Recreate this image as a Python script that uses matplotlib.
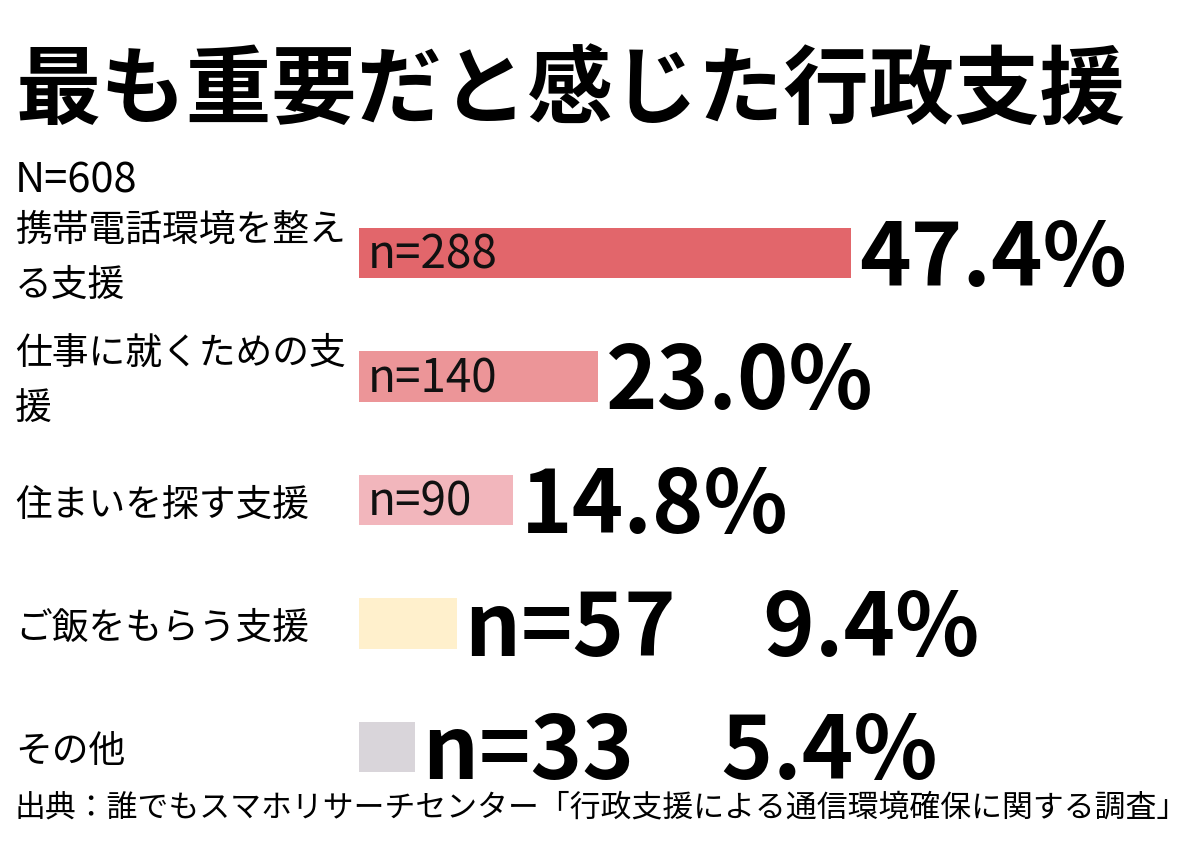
import matplotlib
matplotlib.use("Agg")
import matplotlib.pyplot as plt
from matplotlib.transforms import blended_transform_factory

plt.rcParams['font.family'] = ['Noto Sans CJK JP', 'DejaVu Sans']

# data
labels = ['携帯電話環境を整え\nる支援', '仕事に就くための支\n援', '住まいを探す支援',
          'ご飯をもらう支援', 'その他']
counts = [288, 140, 90, 57, 33]
pcts = [47.4, 23.0, 14.8, 9.4, 5.4]
colors = ['#E2666B', '#EC9598', '#F2B6BC', '#FFF0CC', '#D9D5DA']
title = '最も重要だと感じた行政支援'
total_n = 'N=608'
source = '出典：誰でもスマホリサーチセンター「行政支援による通信環境確保に関する調査」'

W, H = 1200, 848
fig = plt.figure(figsize=(12, 8.48), dpi=100)
fig.patch.set_facecolor('white')

# bar area: left edge at x=359px, 10.38 px per percent
ax = fig.add_axes([359 / W, 1 - 808.5 / H, 830 / W, 617 / H])
ax.set_xlim(0, 830 / 10.38)
ax.set_ylim(len(labels) - 0.5, -0.5)
ax.axis('off')

ypos = list(range(len(labels)))
ax.barh(ypos, pcts, height=0.41, color=colors)

lab_tr = blended_transform_factory(fig.transFigure, ax.transData)
for i, lab in enumerate(labels):
    ax.text(15 / W, i + 0.04, lab, transform=lab_tr, ha='left', va='center',
            fontsize=26.5, linespacing=1.55, color='black')

for i, (c, p) in enumerate(zip(counts, pcts)):
    if p > 12:
        ax.text(0.8, i + 0.02, f'n={c}', ha='left', va='center', fontsize=33, color='#111111')
        ax.text(p + 0.8, i + 0.06, f'{p:.1f}%', ha='left', va='center',
                fontsize=63, fontweight='bold', color='black')
    else:
        ax.text(p + 0.8, i + 0.06, f'n={c}\u3000{p:.1f}%', ha='left', va='center',
                fontsize=63, fontweight='bold', color='black')

fig.text(15 / W, 1 - 92 / H, title, ha='left', va='center', fontsize=61.5,
         fontweight='bold', color='black')
fig.text(15 / W, 1 - 181 / H, total_n, ha='left', va='center', fontsize=30, color='black')
fig.text(15 / W, 1 - 808 / H, source, ha='left', va='center', fontsize=22.2, color='black')

fig.savefig('out.png', dpi=100, facecolor='white')
